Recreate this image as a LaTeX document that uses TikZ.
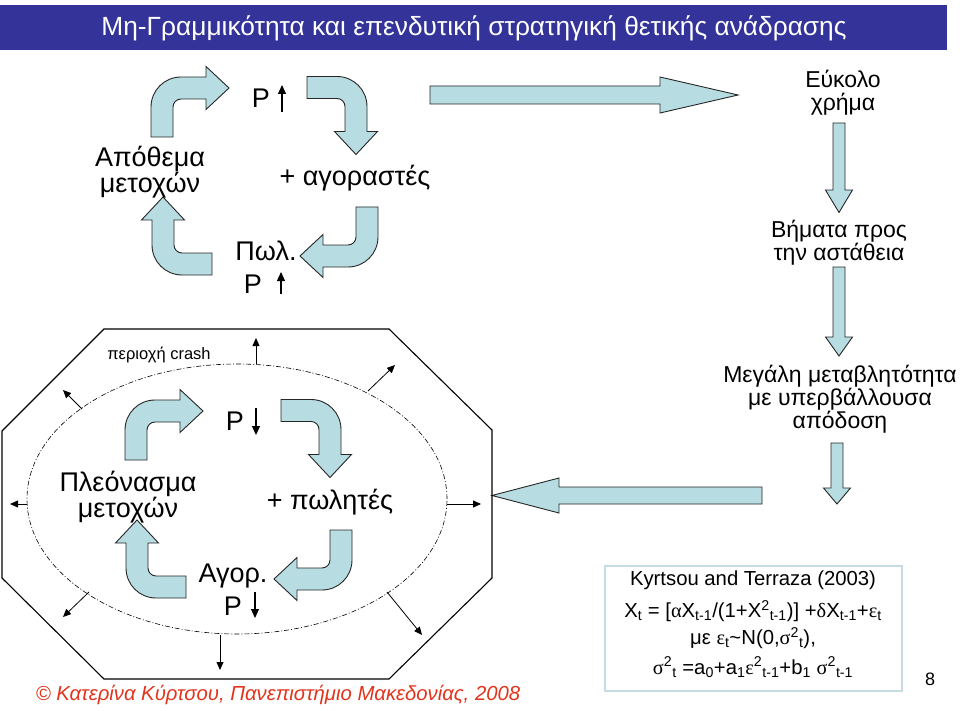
\documentclass[tikz,border=0pt]{standalone}
\usepackage{fontspec}
\setmainfont{Liberation Sans}
\newfontfamily\grs{Liberation Serif}
\usetikzlibrary{arrows.meta}
\definecolor{titleblue}{RGB}{51,51,153}
\definecolor{arrfill}{RGB}{183,221,226}
\definecolor{foot}{RGB}{226,52,28}
\definecolor{boxline}{RGB}{198,220,226}
\newcommand{\bentarrow}[1]{%
  \path[blockarrow,#1] (-11,0) -- (-11,-30) .. controls (-11,-46.6) and (2.4,-60) .. (19,-60)
      -- (44,-60) -- (44,-70.5) -- (67,-49) -- (44,-27.5) -- (44,-38) -- (19,-38)
      .. controls (14.6,-38) and (11,-34.4) .. (11,-30) -- (11,0) -- cycle;}
\begin{document}
\begin{tikzpicture}[x=1pt,y=-1pt,
  blockarrow/.style={fill=arrfill,draw=black!85,line width=0.9pt,line join=miter},
  thinarrow/.style={draw=black,line width=0.8pt,-{Triangle[length=8pt,width=7pt]}},
  parrow/.style={draw=black,line width=1.1pt,-{Triangle[length=9pt,width=8pt]}},
  loopbig/.style={font=\fontsize{27}{25}\selectfont,align=center,inner sep=0pt},
  rightcol/.style={font=\fontsize{23}{23}\selectfont,align=center,inner sep=0pt},
  formula/.style={font=\fontsize{20.3}{22}\selectfont,inner sep=0pt}]
\useasboundingbox (0,0) rectangle (960,711);
\fill[white] (0,0) rectangle (960,711);

% title bar
\fill[titleblue] (0,5) rectangle (947,50);
\node[text=white,font=\fontsize{26.3}{30}\selectfont,inner sep=0pt] (title) at (474,28)
  {Μη-Γραμμικότητα και επενδυτική στρατηγική θετικής ανάδρασης};

% ---------- top loop ----------
\bentarrow{shift={(162,137)}}
\bentarrow{shift={(307,87.5)},rotate=-90}
\bentarrow{shift={(367,207)},rotate=180}
\bentarrow{shift={(212,264)},rotate=90}

\node[loopbig] (stock) at (150,172) {Απόθεμα\\μετοχών};
\node[loopbig] (ptop) at (261,98) {P};
\coordinate (pta) at (282,112); \coordinate (ptb) at (282,85);
\draw[parrow] (pta) -- (ptb);
\node[loopbig] (buyers) at (355,178) {+ αγοραστές};
\node[loopbig] (sellp) at (266,251) {Πωλ.};
\node[loopbig] (pbot) at (253,284) {P};
\coordinate (pba) at (281,294); \coordinate (pbb) at (281,272);
\draw[parrow] (pba) -- (pbb);

% ---------- right column ----------
\path[blockarrow] (430,86) -- (660,86) -- (660,77) -- (738,95) -- (660,113) -- (660,104) -- (430,104) -- cycle;
\node[rightcol] (easy) at (843,93) {Εύκολο\\χρήμα};
\path[blockarrow] (833,123) -- (845,123) -- (845,190) -- (852.5,190) -- (839,212.5) -- (825.5,190) -- (833,190) -- cycle;
\node[rightcol] (steps) at (839,243) {Βήματα προς\\την αστάθεια};
\path[blockarrow] (833,267) -- (845,267) -- (845,337) -- (852.5,337) -- (839,356) -- (825.5,337) -- (833,337) -- cycle;
\node[rightcol] (vol) at (840,399) {Μεγάλη μεταβλητότητα\\με υπερβάλλουσα\\απόδοση};
\path[blockarrow] (831,443) -- (843,443) -- (843,488) -- (850.5,488) -- (837,504) -- (823.5,488) -- (831,488) -- cycle;

% big left arrow
\path[blockarrow] (762,487) -- (559,487) -- (559,478) -- (492,495.5) -- (559,513) -- (559,504) -- (762,504) -- cycle;

% ---------- octagon & crash zone ----------
\draw[line width=1.1pt] (2,431) -- (104,329) -- (389,329) -- (492,430) -- (492,578) -- (389,679) -- (104,679) -- (2,578) -- cycle;
\draw[line width=0.6pt,dash pattern=on 5pt off 2pt on 1pt off 2pt] (237,499) ellipse [x radius=210pt, y radius=135pt];
\node[font=\fontsize{16.5}{18}\selectfont,inner sep=0pt] (crash) at (159,355) {περιοχή crash};
\draw[thinarrow] (256,364) -- (256,338);
\draw[thinarrow] (368,391) -- (395,365);
\draw[thinarrow] (447,504) -- (481,504);
\draw[thinarrow] (387,592) -- (422,635);
\draw[thinarrow] (220,635) -- (220,670);
\draw[thinarrow] (89,592) -- (63,617);
\draw[thinarrow] (27,504) -- (10,504);
\draw[thinarrow] (82,409) -- (63,390);

% ---------- bottom loop ----------
\bentarrow{shift={(136,460)}}
\bentarrow{shift={(281,410.5)},rotate=-90}
\bentarrow{shift={(341,530)},rotate=180}
\bentarrow{shift={(186,587)},rotate=90}

\node[loopbig] (surplus) at (128,497) {Πλεόνασμα\\μετοχών};
\node[loopbig] (pdtop) at (235,421) {P};
\coordinate (pdta) at (256,408); \coordinate (pdtb) at (256,435);
\draw[parrow] (pdta) -- (pdtb);
\node[loopbig] (sellers) at (330,502) {+ πωλητές};
\node[loopbig] (buyp) at (233,576) {Αγορ.};
\node[loopbig] (pdbot) at (233,606) {P};
\coordinate (pdba) at (255,592); \coordinate (pdbb) at (255,618);
\draw[parrow] (pdba) -- (pdbb);

% ---------- formula box ----------
\node[draw=boxline,line width=1.5pt,minimum width=297pt,minimum height=125pt,inner sep=0pt] (fbox) at (753.5,628.5) {};
\node[formula] (f1) at (753,580) {Kyrtsou and Terraza (2003)};
\node[formula] (f2) at (753,611) {X\textsubscript{t} = [{\grs α}X\textsubscript{t-1}/(1+X\textsuperscript{2}\textsubscript{t-1})] +{\grs δ}X\textsubscript{t-1}+{\grs ε}\textsubscript{t}};
\node[formula] (f3) at (753,638) {με {\grs ε}\textsubscript{t}\textasciitilde N(0,{\grs σ}\textsuperscript{2}\textsubscript{t}),};
\node[formula] (f4) at (753,667) {{\grs σ}\textsuperscript{2}\textsubscript{t} =a\textsubscript{0}+a\textsubscript{1}{\grs ε}\textsuperscript{2}\textsubscript{t-1}+b\textsubscript{1} {\grs σ}\textsuperscript{2}\textsubscript{t-1}};
\node[font=\fontsize{18}{20}\selectfont,inner sep=0pt] (pageno) at (930,679) {8};

% footer
\node[text=foot,font=\fontsize{20.3}{22}\selectfont\itshape,inner sep=0pt] (footer) at (278,695)
  {© Κατερίνα Κύρτσου, Πανεπιστήμιο Μακεδονίας, 2008};
\end{tikzpicture}
\end{document}
